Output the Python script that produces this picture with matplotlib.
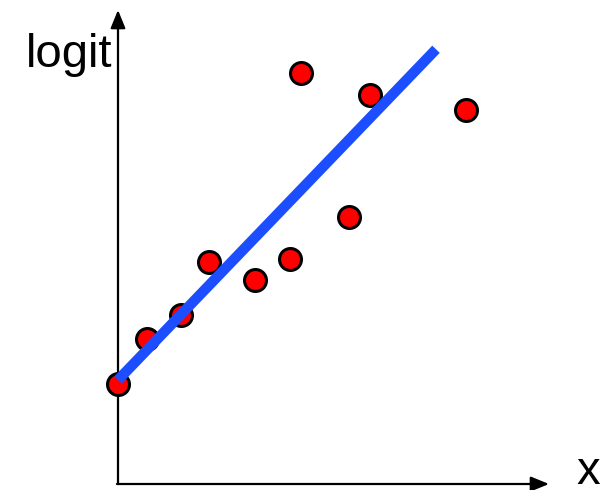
import matplotlib.pyplot as plt

# observed points (x, logit) and fitted line
x_pts = [0.0, 2.9, 6.3, 9.1, 13.7, 17.2, 18.3, 23.1, 25.2, 34.8]
logit_pts = [10.0, 14.5, 16.9, 22.2, 20.4, 22.5, 41.1, 26.7, 38.9, 37.4]
fit_x = [0.0, 31.8]
fit_intercept = 10.4
fit_slope = 1.04


def main():
    plt.rcParams['font.family'] = ['Liberation Sans', 'DejaVu Sans']
    fig = plt.figure(figsize=(6.1, 4.9), dpi=100)
    ax = fig.add_axes([0, 0, 1, 1])
    ax.set_xlim(-11.8, 49.2)
    ax.set_ylim(-0.6, 48.4)
    ax.axis('off')

    # axes drawn as arrows
    arrow = dict(arrowstyle='-|>,head_length=1.1,head_width=0.45', color='black', lw=1.6,
                 shrinkA=0, shrinkB=0)
    ax.annotate('', xy=(0, 47.4), xytext=(0, 0), arrowprops=arrow)
    ax.annotate('', xy=(43.1, 0), xytext=(-0.1, 0), arrowprops=arrow)
    ax.text(-0.6, 41.7, 'logit', ha='right', va='baseline', fontsize=34)
    ax.text(45.8, 0.0, 'x', ha='left', va='baseline', fontsize=34)

    ax.scatter(x_pts, logit_pts, s=250, color='#ff0000', edgecolors='black',
               linewidths=2.2, zorder=3)
    fit_y = [fit_intercept + fit_slope * v for v in fit_x]
    ax.plot(fit_x, fit_y, color='#1c4dff', lw=7.5, solid_capstyle='butt', zorder=4)

    fig.savefig('out.png', dpi=100)


if __name__ == '__main__':
    main()
